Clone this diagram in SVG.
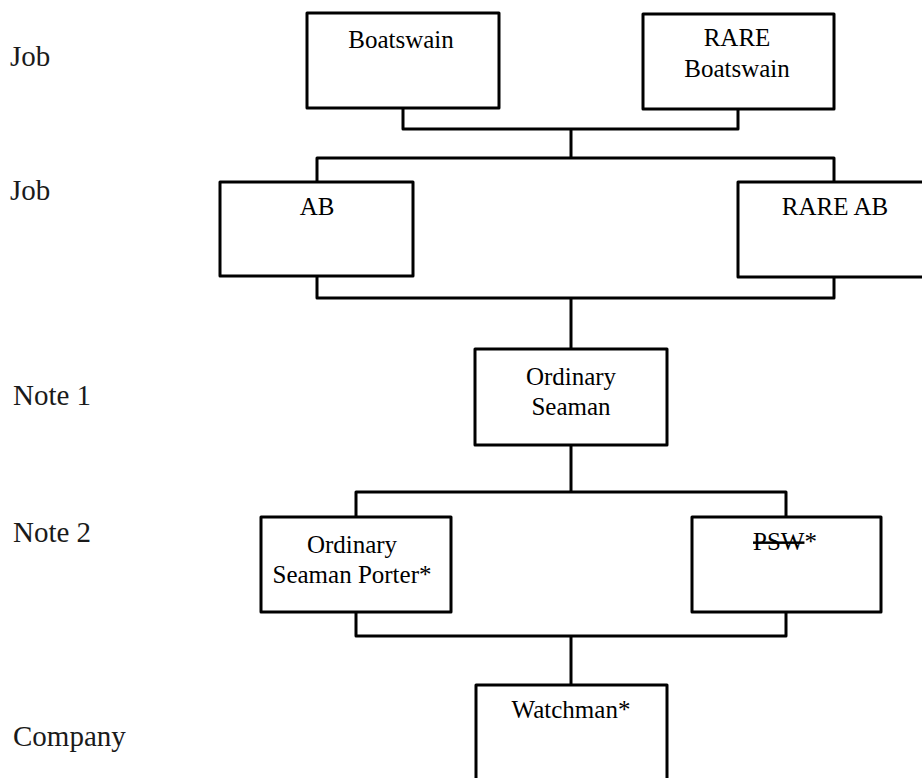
<svg xmlns="http://www.w3.org/2000/svg" width="922" height="778" viewBox="0 0 922 778">
<style>
.box{fill:#fff;stroke:#000;stroke-width:3;stroke-linejoin:round}
.con{fill:none;stroke:#000;stroke-width:3;stroke-linejoin:round}
.t{font-family:"Liberation Serif","Times New Roman",serif;font-size:25px;fill:#000;text-anchor:middle}
.lab{font-family:"Liberation Serif","Times New Roman",serif;font-size:29px;fill:#1a1a1a}
</style>
<rect width="922" height="778" fill="#fff"/>
<g id="labels">
<text class="lab" x="10" y="66">Job</text>
<text class="lab" x="10" y="200">Job</text>
<text class="lab" x="13" y="405">Note 1</text>
<text class="lab" x="13" y="542">Note 2</text>
<text class="lab" x="13" y="746">Company</text>
</g>
<g id="connectors">
<path class="con" d="M403,108 V129 H738 V109"/>
<path class="con" d="M571,129 V158"/>
<path class="con" d="M317,182 V158 H834 V182"/>
<path class="con" d="M317,276 V298 H834 V277"/>
<path class="con" d="M571,298 V349"/>
<path class="con" d="M571,445 V492"/>
<path class="con" d="M356,517 V492 H786 V517"/>
<path class="con" d="M356,612 V636 H786 V612"/>
<path class="con" d="M571,636 V685"/>
</g>
<g id="boatswain">
<rect class="box" x="307" y="13" width="192" height="95"/>
<text class="t" x="401" y="48">Boatswain</text>
</g>
<g id="rare-boatswain">
<rect class="box" x="643" y="14" width="191" height="95"/>
<text class="t" x="737" y="46">RARE</text>
<text class="t" x="737" y="77">Boatswain</text>
</g>
<g id="ab">
<rect class="box" x="220" y="182" width="193" height="94"/>
<text class="t" x="317" y="215">AB</text>
</g>
<g id="rare-ab">
<rect class="box" x="738" y="182" width="200" height="95"/>
<text class="t" x="835" y="215">RARE AB</text>
</g>
<g id="ordinary-seaman">
<rect class="box" x="475" y="349" width="192" height="96"/>
<text class="t" x="571" y="385">Ordinary</text>
<text class="t" x="571" y="415">Seaman</text>
</g>
<g id="ordinary-seaman-porter">
<rect class="box" x="261" y="517" width="190" height="95"/>
<text class="t" x="352" y="553">Ordinary</text>
<text class="t" x="352" y="583">Seaman Porter*</text>
</g>
<g id="psw">
<rect class="box" x="692" y="517" width="189" height="95"/>
<text class="t" x="785" y="550"><tspan text-decoration="line-through">PSW</tspan>*</text>
</g>
<g id="watchman">
<rect class="box" x="476" y="685" width="191" height="110"/>
<text class="t" x="571" y="718">Watchman*</text>
</g>
</svg>
